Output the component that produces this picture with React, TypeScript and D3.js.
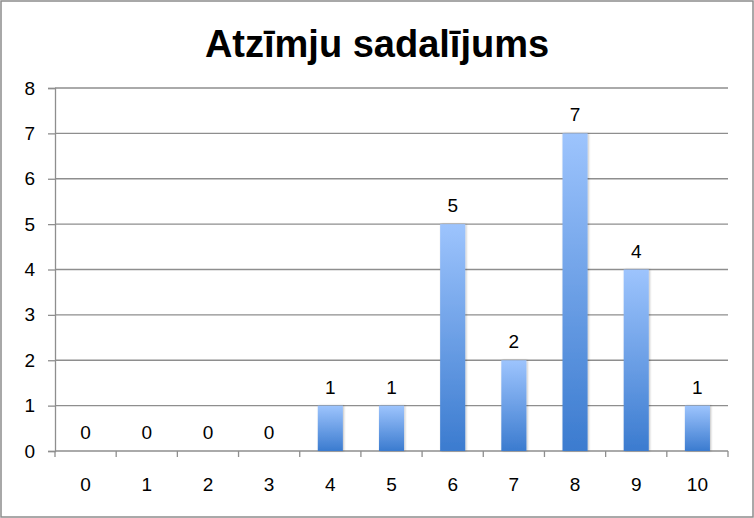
import * as d3 from 'd3'
import React, { useEffect, useRef } from 'react'

const grades = ['0', '1', '2', '3', '4', '5', '6', '7', '8', '9', '10'];
const counts = [0, 0, 0, 0, 1, 1, 5, 2, 7, 4, 1];
const yTicks = [0, 1, 2, 3, 4, 5, 6, 7, 8];
const title = 'Atzīmju sadalījums';

const W = 754;
const H = 518;
const margin = { top: 88, right: 26, bottom: 67, left: 55 };
const font = '"Liberation Sans", Arial, sans-serif';

const App: React.FC = () => {
    const ref = useRef<SVGSVGElement>(null);

    useEffect(() => {
        if (!ref.current) return;
        const svg = d3.select(ref.current);
        svg.selectAll('*').remove();

        const x = d3.scaleBand<string>()
            .domain(grades)
            .range([margin.left, W - margin.right])
            .paddingInner(0.59)
            .paddingOuter(0.295);
        const xEdges = d3.scaleLinear()
            .domain([0, grades.length])
            .range([margin.left, W - margin.right]);
        const y = d3.scaleLinear()
            .domain([0, 8])
            .range([H - margin.bottom, margin.top]);

        const defs = svg.append('defs');
        const grad = defs.append('linearGradient')
            .attr('id', 'barGrad')
            .attr('x1', 0).attr('y1', 0).attr('x2', 0).attr('y2', 1);
        grad.append('stop').attr('offset', '0%').attr('stop-color', '#9dc4fd');
        grad.append('stop').attr('offset', '100%').attr('stop-color', '#3b7bcf');
        const shadow = defs.append('filter').attr('id', 'shadow')
            .attr('x', '-30%').attr('y', '-10%').attr('width', '160%').attr('height', '120%');
        shadow.append('feDropShadow')
            .attr('dx', 1).attr('dy', 0).attr('stdDeviation', 1.2)
            .attr('flood-color', '#000').attr('flood-opacity', 0.25);

        // frame
        svg.append('rect')
            .attr('x', 1).attr('y', 1).attr('width', W - 2).attr('height', H - 2)
            .attr('fill', '#fff').attr('stroke', '#8c8c8c').attr('stroke-width', 1.5);

        // title
        svg.append('text')
            .attr('x', 377).attr('y', 57)
            .attr('text-anchor', 'middle')
            .attr('font-family', font).attr('font-weight', 'bold').attr('font-size', 38)
            .text(title);

        // gridlines
        svg.append('g')
            .selectAll('line')
            .data(yTicks.filter(d => d > 0))
            .join('line')
            .attr('x1', margin.left).attr('x2', W - margin.right)
            .attr('y1', d => y(d)).attr('y2', d => y(d))
            .attr('stroke', '#8e8e8e').attr('stroke-width', 1.3);

        // y axis
        const yAxis = svg.append('g')
            .attr('transform', `translate(${margin.left},0)`)
            .call(d3.axisLeft(y).tickValues(yTicks).tickSize(7).tickPadding(13).tickFormat(d3.format('d')));
        yAxis.select('.domain').attr('stroke', '#8e8e8e').attr('stroke-width', 1.3);
        yAxis.selectAll('.tick line').attr('stroke', '#8e8e8e').attr('stroke-width', 1.3);
        yAxis.selectAll('.tick text')
            .attr('font-family', font).attr('font-size', 19).attr('fill', '#000');

        // x axis with ticks at band edges
        const base = y(0);
        svg.append('line')
            .attr('x1', margin.left).attr('x2', W - margin.right)
            .attr('y1', base).attr('y2', base)
            .attr('stroke', '#8e8e8e').attr('stroke-width', 1.3);
        svg.append('g')
            .selectAll('line')
            .data(d3.range(grades.length + 1))
            .join('line')
            .attr('x1', d => xEdges(d)).attr('x2', d => xEdges(d))
            .attr('y1', base).attr('y2', base + 6)
            .attr('stroke', '#8e8e8e').attr('stroke-width', 1.3);
        svg.append('g')
            .selectAll('text')
            .data(grades)
            .join('text')
            .attr('x', d => (x(d) ?? 0) + x.bandwidth() / 2)
            .attr('y', base + 40)
            .attr('text-anchor', 'middle')
            .attr('font-family', font).attr('font-size', 19)
            .text(d => d);

        // bars
        svg.append('g')
            .selectAll('rect')
            .data(counts.map((v, i) => ({ g: grades[i], v })).filter(d => d.v > 0))
            .join('rect')
            .attr('x', d => x(d.g) ?? 0)
            .attr('y', d => y(d.v))
            .attr('width', x.bandwidth())
            .attr('height', d => base - y(d.v))
            .attr('fill', 'url(#barGrad)')
            .attr('filter', 'url(#shadow)');

        // value labels
        svg.append('g')
            .selectAll('text')
            .data(counts.map((v, i) => ({ g: grades[i], v })))
            .join('text')
            .attr('x', d => (x(d.g) ?? 0) + x.bandwidth() / 2)
            .attr('y', d => y(d.v) - 12)
            .attr('text-anchor', 'middle')
            .attr('font-family', font).attr('font-size', 19)
            .text(d => d.v);
    }, []);

    return (
        <>
            <style>{'body{margin:0}'}</style>
            <svg ref={ref} width={W} height={H} style={{ display: 'block' }} />
        </>
    );
};

export default App;
